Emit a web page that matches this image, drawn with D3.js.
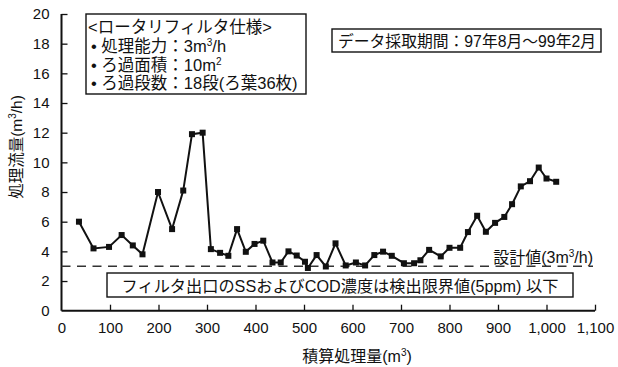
<!DOCTYPE html>
<html>
<head>
<meta charset="utf-8">
<script src="https://cdn.jsdelivr.net/npm/d3@7"></script>
<style>
  html, body { margin: 0; padding: 0; background: #fff; }
  svg { display: block; }
  text { font-family: "Liberation Sans", "Noto Sans CJK JP", sans-serif; fill: #111; }
</style>
</head>
<body>
<svg id="chart" width="618" height="367"></svg>
<script>
// Cumulative treated volume (m3) and treated flow rate (m3/h)
const volume = [36, 66, 98, 124, 147, 167, 199, 228, 251, 269, 291, 308, 327, 344, 362, 380, 398, 416,
  435, 452, 468, 485, 502, 508, 526, 545, 565, 586, 607, 626, 645, 663, 681, 706, 727, 740, 758, 782,
  800, 822, 838, 857, 875, 894, 913, 929, 947, 966, 984, 1000, 1020];
const flow = [6.0, 4.2, 4.3, 5.1, 4.4, 3.8, 8.0, 5.5, 8.1, 11.9, 12.0, 4.15, 3.9, 3.7, 5.5, 3.97, 4.5, 4.72,
  3.25, 3.25, 4.0, 3.72, 3.3, 2.88, 3.75, 2.98, 4.54, 3.05, 3.25, 3.05, 3.75, 3.98, 3.7, 3.2, 3.2, 3.4, 4.1, 3.66,
  4.24, 4.24, 5.3, 6.4, 5.32, 5.92, 6.32, 7.18, 8.38, 8.73, 9.65, 8.91, 8.69];
const designFlow = 3;
const xTicks = [0, 100, 200, 300, 400, 500, 600, 700, 800, 900, 1000, 1100];
const yTicks = [0, 2, 4, 6, 8, 10, 12, 14, 16, 18, 20];

const svg = d3.select("#chart");
const x = d3.scaleLinear().domain([0, 1100]).range([61.5, 595]);
const y = d3.scaleLinear().domain([0, 20]).range([310.7, 14]);

// Axes with inward ticks
const xAxis = svg.append("g").attr("transform", `translate(0,${y(0)})`)
  .call(d3.axisBottom(x).tickValues(xTicks).tickSize(-6).tickPadding(12)
    .tickFormat(d => d3.format(",")(d)));
const yAxis = svg.append("g").attr("transform", `translate(${x(0)},0)`)
  .call(d3.axisLeft(y).tickValues(yTicks).tickSize(-6).tickPadding(12));
[xAxis, yAxis].forEach(g => {
  g.select(".domain").attr("stroke", "#111").attr("stroke-width", 2);
  g.selectAll(".tick line").attr("stroke", "#111").attr("stroke-width", 1.3);
  g.selectAll(".tick text").attr("font-size", 15).attr("fill", "#111")
    .style("font-family", '"Liberation Sans", sans-serif');
});
xAxis.select(".domain").attr("d", `M${x(0)},0H${x(1100)}`);
xAxis.selectAll(".tick line").filter(d => d === 0).remove();
yAxis.select(".domain").attr("d", `M0,${y(0)}V${y(20)}`);
yAxis.selectAll(".tick line").filter(d => d === 0).remove();

// Design flow reference line
svg.append("line")
  .attr("x1", x(0)).attr("x2", 593)
  .attr("y1", y(designFlow)).attr("y2", y(designFlow))
  .attr("stroke", "#333").attr("stroke-width", 1.4).attr("stroke-dasharray", "9,6.5");
const design = svg.append("text").attr("x", 593).attr("y", 263).attr("text-anchor", "end")
  .attr("font-size", 16);
design.append("tspan").text("設計値(3m");
design.append("tspan").attr("font-size", 10).attr("dy", -6).text("3");
design.append("tspan").attr("dy", 6).text("/h)");

// Flow series
const pts = volume.map((v, i) => [v, flow[i]]);
svg.append("path").datum(pts)
  .attr("fill", "none").attr("stroke", "#111").attr("stroke-width", 2)
  .attr("d", d3.line().x(d => x(d[0])).y(d => y(d[1])));
svg.append("g").selectAll("rect").data(pts).join("rect")
  .attr("x", d => x(d[0]) - 3).attr("y", d => y(d[1]) - 3)
  .attr("width", 6).attr("height", 6).attr("fill", "#111");

// Specification box
svg.append("rect").attr("x", 86).attr("y", 14).attr("width", 220).attr("height", 80)
  .attr("fill", "#fff").attr("stroke", "#111").attr("stroke-width", 1.4);
const spec = svg.append("g").attr("font-size", 16.5);
spec.append("text").attr("x", 88).attr("y", 33).text("<ロータリフィルタ仕様>");
const l2 = spec.append("text").attr("x", 91).attr("y", 52);
l2.append("tspan").text("• 処理能力：3m");
l2.append("tspan").attr("font-size", 10).attr("dy", -6).text("3");
l2.append("tspan").attr("dy", 6).text("/h");
const l3 = spec.append("text").attr("x", 91).attr("y", 71);
l3.append("tspan").text("• ろ過面積：10m");
l3.append("tspan").attr("font-size", 10).attr("dy", -6).text("2");
spec.append("text").attr("x", 91).attr("y", 89).text("• ろ過段数：18段(ろ葉36枚)");

// Data period box
svg.append("rect").attr("x", 332).attr("y", 29).attr("width", 269).attr("height", 23)
  .attr("fill", "#fff").attr("stroke", "#111").attr("stroke-width", 1.4);
svg.append("text").attr("x", 467).attr("y", 46.5).attr("text-anchor", "middle")
  .attr("font-size", 15.8).text("データ採取期間：97年8月～99年2月");

// Outlet quality note box
svg.append("rect").attr("x", 107).attr("y", 273).attr("width", 466).attr("height", 24)
  .attr("fill", "#fff").attr("stroke", "#111").attr("stroke-width", 1.4);
svg.append("text").attr("x", 340).attr("y", 291.5).attr("text-anchor", "middle")
  .attr("font-size", 16.2).text("フィルタ出口のSSおよびCOD濃度は検出限界値(5ppm) 以下");

// Axis titles
const xt = svg.append("text").attr("x", 357).attr("y", 362).attr("text-anchor", "middle")
  .attr("font-size", 16);
xt.append("tspan").text("積算処理量(m");
xt.append("tspan").attr("font-size", 10).attr("dy", -6).text("3");
xt.append("tspan").attr("dy", 6).text(")");
const yt = svg.append("text").attr("transform", "translate(22,147) rotate(-90)")
  .attr("text-anchor", "middle").attr("font-size", 15.5);
yt.append("tspan").text("処理流量(m");
yt.append("tspan").attr("font-size", 10).attr("dy", -6).text("3");
yt.append("tspan").attr("dy", 6).text("/h)");
</script>
</body>
</html>
